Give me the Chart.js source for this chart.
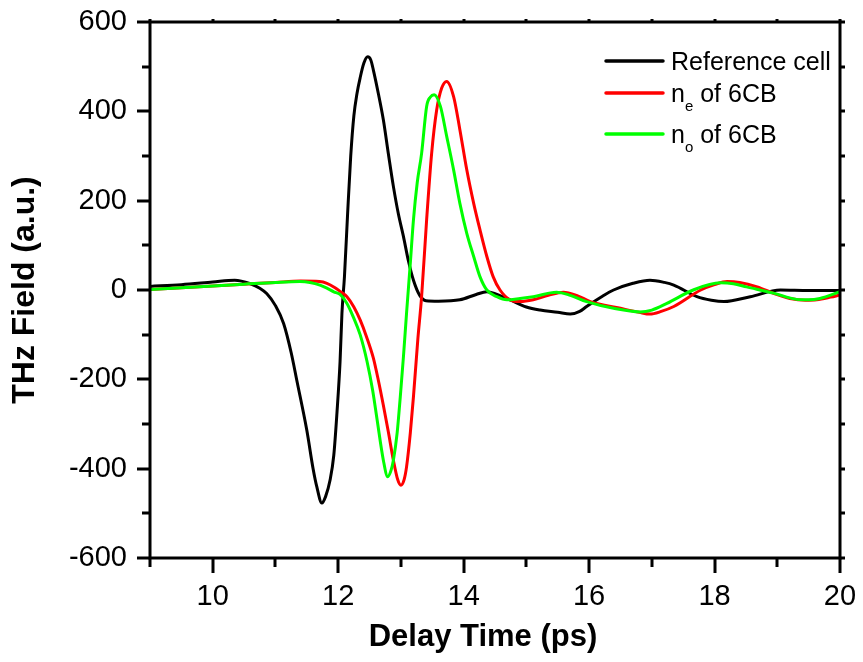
<!DOCTYPE html>
<html>
<head>
<meta charset="utf-8">
<script src="https://cdn.jsdelivr.net/npm/chart.js@4"></script>
<style>
  html, body { margin: 0; padding: 0; background: #ffffff; }
  #wrap { width: 863px; height: 662px; }
</style>
</head>
<body>
<div id="wrap"><canvas id="thz" width="863" height="662"></canvas></div>
<script>
// THz time-domain waveforms: empty reference cell vs. 6CB liquid crystal (e- and o-ray)
const refTime  = [9.0, 9.5, 10.0, 10.35, 10.6, 10.75, 10.86, 11.0, 11.13, 11.25, 11.34, 11.5, 11.6, 11.66, 11.74, 11.8, 11.87, 11.93, 11.98, 12.03, 12.06, 12.1, 12.15, 12.2, 12.25, 12.3, 12.35, 12.41, 12.47, 12.52, 12.56, 12.64, 12.72, 12.8, 12.88, 12.96, 13.04, 13.12, 13.2, 13.3, 13.4, 13.6, 13.94, 14.2, 14.37, 14.5, 14.74, 15.0, 15.22, 15.5, 15.7, 15.85, 15.96, 16.2, 16.39, 16.7, 16.97, 17.2, 17.35, 17.72, 17.95, 18.15, 18.57, 19.05, 19.5, 20.0];
const refField = [8, 12, 18, 22, 14, 4, -8, -35, -75, -140, -202, -314, -400, -441, -477, -462, -426, -370, -276, -160, -52, 30, 170, 300, 390, 440, 475, 508, 522, 515, 493, 440, 381, 305, 232, 170, 120, 65, 22, -12, -24, -25, -22, -10, -4, -8, -22, -38, -45, -50, -54, -48, -37, -15, 0, 15, 22, 17, 11, -15, -23, -26, -15, 0, -1, -1];

const neTime  = [9.0, 9.5, 10.0, 10.5, 11.0, 11.4, 11.7, 11.82, 11.95, 12.03, 12.14, 12.25, 12.35, 12.45, 12.56, 12.64, 12.72, 12.8, 12.88, 12.95, 13.0, 13.05, 13.09, 13.15, 13.2, 13.27, 13.33, 13.41, 13.49, 13.57, 13.65, 13.73, 13.84, 13.94, 14.05, 14.16, 14.26, 14.37, 14.47, 14.58, 14.74, 14.9, 15.11, 15.35, 15.59, 15.8, 16.02, 16.5, 16.8, 16.97, 17.15, 17.35, 17.78, 18.0, 18.2, 18.4, 18.68, 18.95, 19.2, 19.45, 19.63, 19.85, 20.0];
const neField = [1, 5, 9, 13, 17, 20, 19, 15, 5, -3, -15, -38, -67, -104, -152, -202, -258, -318, -381, -425, -437, -425, -396, -320, -239, -110, -15, 157, 306, 403, 452, 467, 433, 359, 269, 194, 135, 75, 30, 0, -22, -26, -22, -12, -5, -12, -26, -41, -50, -54, -48, -37, 0, 12, 19, 17, 7, -8, -19, -23, -22, -16, -11];

const noTime  = [9.0, 9.5, 10.0, 10.5, 11.0, 11.39, 11.55, 11.71, 11.82, 11.93, 12.03, 12.14, 12.24, 12.35, 12.46, 12.55, 12.62, 12.72, 12.79, 12.84, 12.88, 12.94, 12.99, 13.04, 13.09, 13.15, 13.2, 13.26, 13.33, 13.41, 13.47, 13.53, 13.63, 13.73, 13.84, 13.94, 14.05, 14.16, 14.26, 14.37, 14.53, 14.69, 14.9, 15.11, 15.48, 15.7, 15.96, 16.39, 16.81, 17.0, 17.24, 17.66, 18.09, 18.3, 18.51, 18.94, 19.31, 19.5, 19.68, 20.0];
const noField = [1, 5, 9, 13, 17, 19, 17, 11, 4, -4, -10, -30, -60, -100, -160, -225, -290, -381, -418, -405, -381, -320, -239, -150, -52, 60, 157, 240, 306, 411, 432, 437, 411, 344, 269, 194, 127, 75, 30, 0, -15, -22, -19, -15, -5, -12, -26, -41, -49, -45, -30, 0, 16, 14, 7, -7, -21, -22, -19, -4];

const seriesLabels = ['Reference cell', 'n_e of 6CB', 'n_o of 6CB'];
const seriesColors = ['#000000', '#ff0000', '#00ff00'];

const xTickValues = [10, 12, 14, 16, 18, 20];
const yTickValues = [-600, -400, -200, 0, 200, 400, 600];
const xTitle = 'Delay Time (ps)';
const yTitle = 'THz Field (a.u.)';

const FONT = "'Liberation Sans', Arial, Helvetica, sans-serif";

function toPoints(xs, ys) {
  return xs.map((x, i) => ({ x: x, y: ys[i] }));
}

// Box frame with major/minor ticks on all four sides, axis titles and legend
const framePlugin = {
  id: 'frame',
  afterDatasetsDraw(chart) {
    const ctx = chart.ctx;
    const a = chart.chartArea;
    const xs = chart.scales.x, ys = chart.scales.y;
    ctx.save();
    ctx.strokeStyle = '#000';
    ctx.lineWidth = 3;
    ctx.lineCap = 'butt';
    ctx.strokeRect(a.left, a.top, a.right - a.left, a.bottom - a.top);

    ctx.beginPath();
    for (let v = xs.min; v <= xs.max + 1e-9; v += 1) {
      const px = Math.round(xs.getPixelForValue(v));
      const major = Math.abs(v % 2) < 1e-9;
      ctx.moveTo(px, a.bottom);
      ctx.lineTo(px, a.bottom + (major ? 15 : 9));
      ctx.moveTo(px, a.top);
      ctx.lineTo(px, a.top - 3);
    }
    for (let v = ys.min; v <= ys.max + 1e-9; v += 100) {
      const py = Math.round(ys.getPixelForValue(v));
      const major = Math.abs(v % 200) < 1e-9;
      ctx.moveTo(a.left, py);
      ctx.lineTo(a.left - (major ? 13 : 8), py);
      ctx.moveTo(a.right, py);
      ctx.lineTo(a.right + 5, py);
    }
    ctx.stroke();
    ctx.restore();
  },
  afterDraw(chart) {
    const ctx = chart.ctx;
    const a = chart.chartArea;
    ctx.save();
    ctx.fillStyle = '#000';

    ctx.font = 'bold 31px ' + FONT;
    ctx.textAlign = 'center';
    ctx.textBaseline = 'alphabetic';
    ctx.fillText(xTitle, 483, 646);

    ctx.save();
    ctx.translate(34, (a.top + a.bottom) / 2);
    ctx.rotate(-Math.PI / 2);
    ctx.font = 'bold 32px ' + FONT;
    ctx.fillText(yTitle, 0, 0);
    ctx.restore();

    const rowY = [61, 93, 134];
    const lineX0 = 606, lineX1 = 663, textX = 671;
    ctx.textAlign = 'left';
    chart.data.datasets.forEach((ds, i) => {
      const y = rowY[i];
      ctx.strokeStyle = ds.borderColor;
      ctx.lineWidth = 3.5;
      ctx.lineCap = 'round';
      ctx.beginPath();
      ctx.moveTo(lineX0, y);
      ctx.lineTo(lineX1, y);
      ctx.stroke();

      const base = y + 9;
      const label = ds.label;
      const k = label.indexOf('_');
      ctx.font = '25px ' + FONT;
      if (k < 0) {
        ctx.fillText(label, textX, base);
      } else {
        const head = label.slice(0, k);
        const sub = label.charAt(k + 1);
        const tail = label.slice(k + 2);
        ctx.fillText(head, textX, base);
        let x = textX + ctx.measureText(head).width;
        ctx.font = '15px ' + FONT;
        ctx.fillText(sub, x, base + 9);
        x += ctx.measureText(sub).width;
        ctx.font = '25px ' + FONT;
        ctx.fillText(tail, x, base);
      }
    });
    ctx.restore();
  }
};

const datasets = [
  { label: seriesLabels[0], data: toPoints(refTime, refField), borderColor: seriesColors[0], order: 3 },
  { label: seriesLabels[1], data: toPoints(neTime, neField), borderColor: seriesColors[1], order: 2 },
  { label: seriesLabels[2], data: toPoints(noTime, noField), borderColor: seriesColors[2], order: 1 }
].map(d => Object.assign(d, {
  showLine: true,
  borderWidth: 3,
  pointRadius: 0,
  pointHoverRadius: 0,
  fill: false,
  cubicInterpolationMode: 'monotone',
  backgroundColor: d.borderColor
}));

new Chart(document.getElementById('thz'), {
  type: 'scatter',
  data: { datasets: datasets },
  options: {
    responsive: false,
    animation: false,
    devicePixelRatio: 1,
    layout: { padding: { top: 22, right: 23, left: 0, bottom: 0 } },
    plugins: { legend: { display: false }, tooltip: { enabled: false } },
    scales: {
      x: {
        type: 'linear',
        min: 9, max: 20,
        grid: { display: false, drawTicks: false },
        border: { display: false },
        afterBuildTicks: s => { s.ticks = xTickValues.map(v => ({ value: v })); },
        afterFit: s => { s.height = 104; s.paddingLeft = 0; s.paddingRight = 0; },
        ticks: {
          color: '#000',
          padding: 22,
          maxRotation: 0,
          autoSkip: false,
          font: { family: FONT, size: 29 },
          callback: v => String(v)
        }
      },
      y: {
        type: 'linear',
        min: -600, max: 600,
        grid: { display: false, drawTicks: false },
        border: { display: false },
        afterBuildTicks: s => { s.ticks = yTickValues.map(v => ({ value: v })); },
        afterFit: s => { s.width = 150; s.paddingTop = 0; s.paddingBottom = 0; },
        ticks: {
          color: '#000',
          padding: 23,
          autoSkip: false,
          font: { family: FONT, size: 29 },
          callback: v => String(v)
        }
      }
    }
  },
  plugins: [framePlugin]
});
</script>
</body>
</html>
